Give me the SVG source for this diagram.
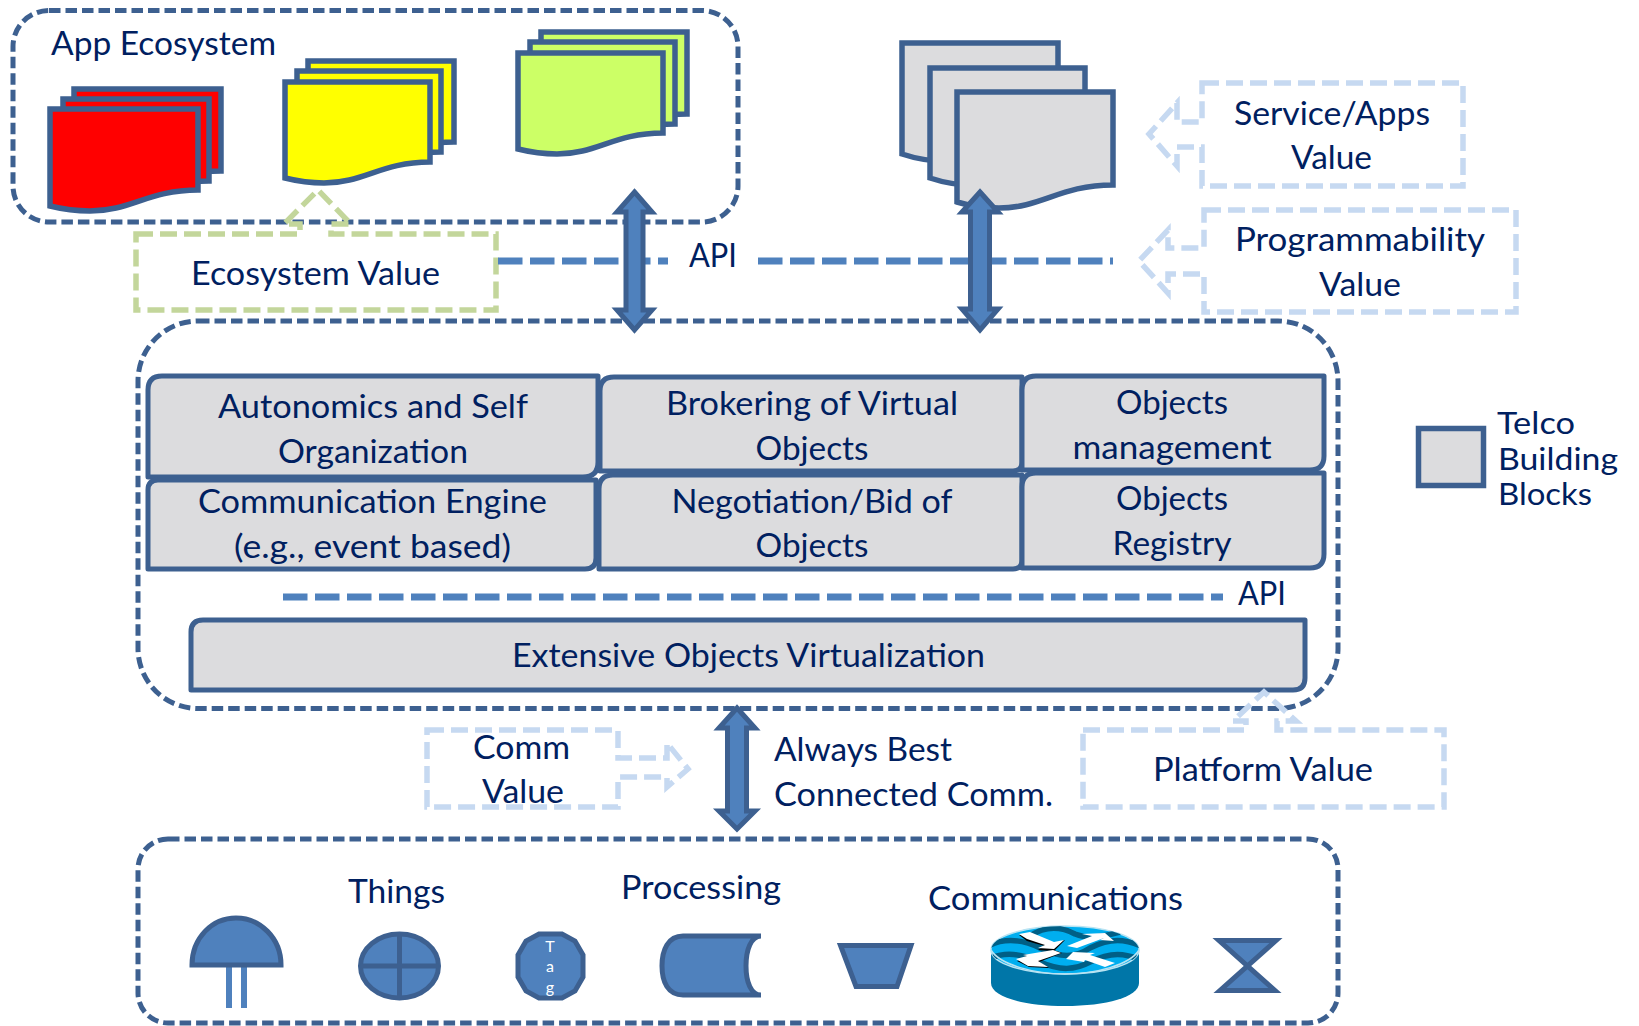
<svg xmlns="http://www.w3.org/2000/svg" width="1639" height="1026" viewBox="0 0 1639 1026">
<style>
text{font-family:"Lato","Open Sans","Liberation Sans",sans-serif;font-size:33px;fill:#002060;transform:translateY(1px)}
.cn{text-anchor:middle}
.lgd{font-size:30px}
.box{fill:none;stroke:#3d6090;stroke-width:5;stroke-dasharray:11.500 5}
.doc{stroke:#3d6090;stroke-width:5.500;stroke-linejoin:miter}
.red{fill:#ff0000}.yel{fill:#ffff00}.grn{fill:#ccff66}.gry{fill:#dcdcde}
.blk{fill:#dcdcde;stroke:#3d6090;stroke-width:5;stroke-linejoin:round}
.val{fill:#fff;fill-opacity:0;stroke-width:5.500;stroke-dasharray:17 7;stroke-linejoin:miter}
.lb{stroke:#c6d9f1}.lg{stroke:#c3d69b}
.api{fill:none;stroke:#4f81bd;stroke-width:7;stroke-dasharray:24.500 7.500}
.dbl{fill:#4f81bd;stroke:#3d6090;stroke-width:5;stroke-linejoin:miter}
.ico{fill:#4f81bd;stroke:#3d6090;stroke-width:5;stroke-linejoin:miter}
.leg{fill:#4f81bd}
.tag{font-size:16px;fill:#fff;text-anchor:middle}
.wave{fill:none;stroke:#005f86;stroke-width:5.500}
.arw{fill:#fff;stroke:none}
.sh{fill:#000;stroke:none}
</style>
<defs><clipPath id="disk"><ellipse cx="1065" cy="950" rx="74" ry="24"/></clipPath></defs>
<rect width="1639" height="1026" fill="#fff"/>

<g id="app-ecosystem">
<rect class="box" x="13" y="10.500" width="725" height="211.500" rx="36"/>
<text x="51" y="54" textLength="225" lengthAdjust="spacingAndGlyphs">App Ecosystem</text>
</g>
<g id="docs-red">
<path class="doc red" d="M74,89H221V171C172,171 154,192 113,192C97,192 86,190 74,187Z"/>
<path class="doc red" d="M63,99H209V181C160,181 143,202 102,202C86,202 75,200 63,197Z"/>
<path class="doc red" d="M50,109H198V190C148,190 131,211 90,211C74,211 62,209 50,206Z"/>
</g>
<g id="docs-yellow">
<path class="doc yel" d="M308,61H454V142C405,142 388,163 347,163C331,163 320,161 308,158Z"/>
<path class="doc yel" d="M297,71H441V152C393,152 376,173 336,173C320,173 308,171 297,168Z"/>
<path class="doc yel" d="M285,82H430V162C381,162 364,183 324,183C308,183 297,181 285,178Z"/>
</g>
<g id="docs-green">
<path class="doc grn" d="M541,32H687V114C638,114 621,135 580,135C564,135 553,133 541,130Z"/>
<path class="doc grn" d="M530,42H675V124C626,124 609,145 569,145C553,145 542,143 530,140Z"/>
<path class="doc grn" d="M518,53H663V133C614,133 597,154 557,154C541,154 530,152 518,149Z"/>
</g>
<g id="docs-gray">
<path class="doc gry" d="M902,43H1058V138C1006,138 987,161 944,161C927,161 914,158 902,154Z"/>
<path class="doc gry" d="M930,68H1085V162C1033,162 1015,185 972,185C955,185 942,182 930,178Z"/>
<path class="doc gry" d="M957,92H1113V185C1060,185 1042,208 999,208C982,208 970,206 957,202Z"/>
</g>

<g id="platform">
<rect class="box" x="138" y="321" width="1200" height="387.500" rx="60"/>
</g>
<g id="things-box">
<rect class="box" x="138" y="839" width="1200" height="184" rx="30"/>
</g>

<g id="autonomics">
<path class="blk" d="M162,376H598V462Q598,477 583,477H148V390Q148,376 162,376Z"/>
<text class="cn" x="373" y="417" textLength="310" lengthAdjust="spacingAndGlyphs">Autonomics and Self</text>
<text class="cn" x="373" y="462" textLength="190" lengthAdjust="spacingAndGlyphs">Organization</text>
</g>
<g id="communication">
<path class="blk" d="M158,480H596V558Q596,569 585,569H148V490Q148,480 158,480Z"/>
<text class="cn" x="372.500" y="512" textLength="349" lengthAdjust="spacingAndGlyphs">Communication Engine</text>
<text class="cn" x="372.500" y="557" textLength="277" lengthAdjust="spacingAndGlyphs">(e.g., event based)</text>
</g>
<g id="brokering">
<path class="blk" d="M614,377H1022V462Q1022,471 1013,471H600V391Q600,377 614,377Z"/>
<text class="cn" x="812" y="414" textLength="292" lengthAdjust="spacingAndGlyphs">Brokering of Virtual</text>
<text class="cn" x="812" y="459" textLength="113" lengthAdjust="spacingAndGlyphs">Objects</text>
</g>
<g id="negotiation">
<path class="blk" d="M613,475H1022V560Q1022,569 1013,569H599V489Q599,475 613,475Z"/>
<text class="cn" x="812" y="512" textLength="281" lengthAdjust="spacingAndGlyphs">Negotiation/Bid of</text>
<text class="cn" x="812" y="556" textLength="113" lengthAdjust="spacingAndGlyphs">Objects</text>
</g>
<g id="objects-management">
<path class="blk" d="M1036,376H1324V456Q1324,470 1310,470H1022V390Q1022,376 1036,376Z"/>
<text class="cn" x="1172" y="413" textLength="112" lengthAdjust="spacingAndGlyphs">Objects</text>
<text class="cn" x="1172" y="458" textLength="199" lengthAdjust="spacingAndGlyphs">management</text>
</g>
<g id="objects-registry">
<path class="blk" d="M1036,473H1324V554Q1324,568 1310,568H1022V487Q1022,473 1036,473Z"/>
<text class="cn" x="1172" y="509" textLength="112" lengthAdjust="spacingAndGlyphs">Objects</text>
<text class="cn" x="1172" y="554" textLength="119" lengthAdjust="spacingAndGlyphs">Registry</text>
</g>
<g id="virtualization">
<path class="blk" d="M203,620H1305V678Q1305,690 1293,690H191V632Q191,620 203,620Z"/>
<text class="cn" x="748.500" y="666" textLength="473" lengthAdjust="spacingAndGlyphs">Extensive Objects Virtualization</text>
</g>

<g id="legend">
<rect class="blk" x="1418.500" y="428.500" width="65" height="57" style="stroke-width:5.500;stroke-linejoin:miter"/>
<text class="lgd" x="1497" y="433" textLength="78" lengthAdjust="spacingAndGlyphs">Telco</text>
<text class="lgd" x="1498" y="468.500" textLength="120" lengthAdjust="spacingAndGlyphs">Building</text>
<text class="lgd" x="1498" y="503.500" textLength="94" lengthAdjust="spacingAndGlyphs">Blocks</text>
</g>

<g id="ecosystem-value">
<path class="val lg" d="M136,234H300V224H284L318,190L351,224H331V234H496V310H136Z"/>
<text x="191" y="284" textLength="249" lengthAdjust="spacingAndGlyphs">Ecosystem Value</text>
</g>
<g id="service-value">
<path class="val lb" d="M1202,83H1463V186H1202V147H1177V166L1149,134L1177,103V122H1202Z"/>
<text x="1234" y="124" textLength="196" lengthAdjust="spacingAndGlyphs">Service/Apps</text>
<text x="1291" y="168" textLength="81" lengthAdjust="spacingAndGlyphs">Value</text>
</g>
<g id="programmability-value">
<path class="val lb" d="M1204,210H1516V312H1204V274H1168V293L1139,261L1168,230V248H1204Z"/>
<text x="1235" y="250" textLength="250" lengthAdjust="spacingAndGlyphs">Programmability</text>
<text x="1319" y="295" textLength="82" lengthAdjust="spacingAndGlyphs">Value</text>
</g>
<g id="comm-value">
<path class="val lb" d="M427,730H618V758H667V743L688,769L667,787V777H618V807H427Z"/>
<text x="473" y="758" textLength="97" lengthAdjust="spacingAndGlyphs">Comm</text>
<text x="482" y="802" textLength="82" lengthAdjust="spacingAndGlyphs">Value</text>
</g>
<g id="platform-value">
<path class="val lb" d="M1083,730H1246V721H1233L1264,692L1296,721H1277V730H1444V807H1083Z"/>
<text x="1153" y="780" textLength="220" lengthAdjust="spacingAndGlyphs">Platform Value</text>
</g>

<g id="connectors">
<path class="api" d="M498,261H668"/>
<path class="api" d="M758,261H1113"/>
<path class="api" d="M283,597H1223"/>
<path class="dbl" d="M634.500,192L652,212H643V310H652L634.500,330L617,310H626V212H617Z"/>
<path class="dbl" d="M980,192L998,212H989.500V309H998L980,330L962,309H970.500V212H962Z"/>
<path class="dbl" d="M737,708L755,728H746.500V811H755L737,829L719,811H727.500V728H719Z"/>
</g>
<g id="api-labels">
<text x="689" y="266" textLength="48" lengthAdjust="spacingAndGlyphs">API</text>
<text x="1238" y="604" textLength="48" lengthAdjust="spacingAndGlyphs">API</text>
<text x="774" y="760" textLength="178" lengthAdjust="spacingAndGlyphs">Always Best</text>
<text x="774" y="805" textLength="279" lengthAdjust="spacingAndGlyphs">Connected Comm.</text>
</g>

<g id="section-labels">
<text x="348" y="902" textLength="97" lengthAdjust="spacingAndGlyphs">Things</text>
<text x="621" y="898" textLength="160" lengthAdjust="spacingAndGlyphs">Processing</text>
<text x="928" y="909" textLength="255" lengthAdjust="spacingAndGlyphs">Communications</text>
</g>

<g id="sensor">
<rect class="leg" x="226" y="966" width="6" height="42"/>
<rect class="leg" x="241" y="966" width="6" height="42"/>
<path class="ico" d="M192,965C192,938 212,918 236,918C260,918 281,938 281,965Z"/>
</g>
<g id="actuator">
<ellipse class="ico" cx="399.500" cy="966" rx="39" ry="32"/>
<path class="ico" d="M399.500,934V998M360.500,966H438.500" fill="none"/>
</g>
<g id="tag">
<path class="ico" d="M539,934H562L575,941L583,955V977L575,991L562,998H539L526,991L518,977V955L526,941Z"/>
<text class="tag" x="550" y="951">T</text>
<text class="tag" x="550" y="971">a</text>
<text class="tag" x="550" y="992">g</text>
</g>
<g id="storage">
<path class="ico" d="M761,936H683C668,936 662,950 662,966C662,982 668,995 683,995H761C751,995 746,982 746,966C746,950 751,936 761,936Z"/>
</g>
<g id="trapezoid">
<path class="ico" d="M840.500,945.500H911L897,986.500H856Z"/>
</g>
<g id="router">
<path d="M991,950V983C991,997 1024,1006 1065,1006C1106,1006 1139,997 1139,983V950Z" fill="#0076a8"/>
<ellipse cx="1065" cy="950" rx="74" ry="24" fill="#00aeef" stroke="#b9e3f2" stroke-width="1.500"/>
<g clip-path="url(#disk)">
<path class="wave" d="M985,948C1000,938 1020,938 1040,948C1060,958 1075,958 1090,948C1110,938 1125,938 1145,948"/>
<path class="wave" d="M985,962C1000,951 1020,953 1040,962C1060,971 1075,970 1090,962C1110,952 1125,952 1145,962"/>
<path class="wave" d="M1030,936C1045,926 1060,926 1075,934C1090,940 1105,936 1120,932"/>
</g>
<path class="sh" d="M1019,935L1030,933L1054,943L1065,940L1054,951L1038,950L1044,946L1027,941Z"/>
<path class="sh" d="M1017,961L1028,957L1024,956L1054,950L1062,953L1039,962L1049,968L1029,967Z"/>
<path class="arw" d="M1019,934L1030,932L1054,942L1064,940L1054,949L1038,948L1045,945L1027,939Z"/>
<path class="arw" d="M1067,946L1092,936L1082,934L1105,933L1114,941L1100,940L1104,938L1077,948Z"/>
<path class="arw" d="M1016,959L1027,956L1023,955L1053,950L1061,953L1038,961L1048,967L1028,966Z"/>
<path class="arw" d="M1066,959L1073,952L1095,953L1090,955L1115,963L1105,967L1085,960L1084,962Z"/>
<path d="M991,950C1000,965 1035,974 1065,974C1095,974 1130,965 1139,950" fill="none" stroke="#b9e3f2" stroke-width="1.500"/>
</g>
<g id="hourglass">
<path class="ico" d="M1219,940.500H1276L1220,990.500H1275Z"/>
</g>
</svg>
